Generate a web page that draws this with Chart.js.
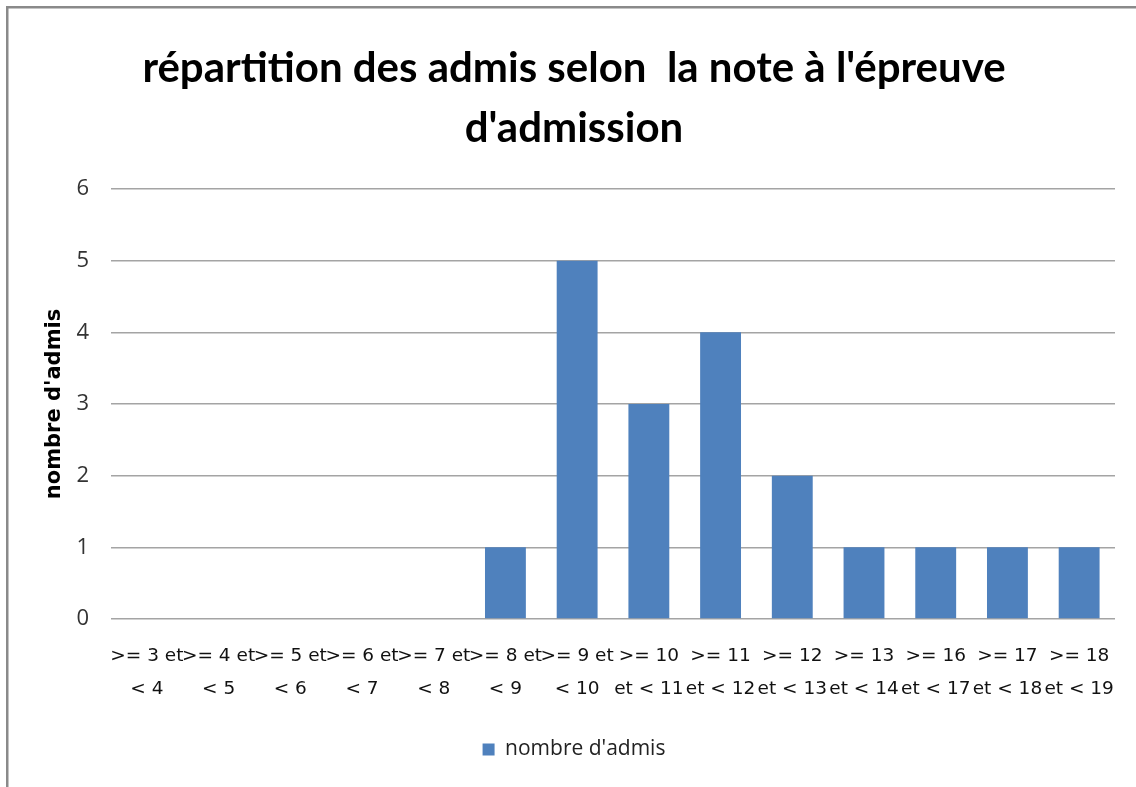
<!DOCTYPE html>
<html>
<head>
<meta charset="utf-8">
<script src="https://cdn.jsdelivr.net/npm/chart.js@4/dist/chart.umd.min.js"></script>
<style>
html,body{margin:0;padding:0;background:#fff;}
#wrap{position:relative;width:1136px;height:787px;}
</style>
</head>
<body>
<div id="wrap"><canvas id="c" width="1136" height="787"></canvas></div>
<script>
const titleLines = ["répartition des admis selon  la note à l'épreuve", "d'admission"];
const categories = [
  [">= 3 et", "< 4"], [">= 4 et", "< 5"], [">= 5 et", "< 6"], [">= 6 et", "< 7"],
  [">= 7 et", "< 8"], [">= 8 et", "< 9"], [">= 9 et", "< 10"], [">= 10", "et < 11"],
  [">= 11", "et < 12"], [">= 12", "et < 13"], [">= 13", "et < 14"], [">= 16", "et < 17"],
  [">= 17", "et < 18"], [">= 18", "et < 19"]
];
const seriesName = "nombre d'admis";
const admis = [0, 0, 0, 0, 0, 1, 5, 3, 4, 2, 1, 1, 1, 1];
const yAxisTitle = "nombre d'admis";
const yMin = 0, yMax = 6, yStep = 1;

const borderPlugin = {
  id: 'frame',
  beforeDraw(chart) {
    const ctx = chart.ctx;
    ctx.save();
    ctx.fillStyle = '#fff';
    ctx.fillRect(0, 0, chart.width, chart.height);
    ctx.strokeStyle = '#8a8a8a';
    ctx.lineWidth = 2.5;
    ctx.beginPath();
    ctx.moveTo(7.25, chart.height);
    ctx.lineTo(7.25, 7.25);
    ctx.lineTo(chart.width, 7.25);
    ctx.stroke();
    ctx.restore();
  }
};

new Chart(document.getElementById('c'), {
  type: 'bar',
  data: {
    labels: categories,
    datasets: [{
      label: seriesName,
      data: admis,
      backgroundColor: '#4F81BD',
      borderWidth: 0,
      barPercentage: 0.57,
      categoryPercentage: 1.0
    }]
  },
  options: {
    responsive: false,
    animation: false,
    devicePixelRatio: 1,
    layout: { padding: { top: 8, left: 12, right: 0, bottom: 17 } },
    plugins: {
      title: {
        display: true,
        text: titleLines,
        color: '#000',
        font: { family: 'Lato', weight: 'bold', size: 42, lineHeight: '60px' },
        padding: { top: 30, bottom: 31 }
      },
      legend: {
        display: true,
        position: 'bottom',
        labels: {
          color: '#222',
          font: { family: 'Open Sans', size: 21 },
          boxWidth: 12,
          boxHeight: 12,
          padding: 10
        }
      },
      tooltip: { enabled: false }
    },
    scales: {
      x: {
        grid: { display: false, drawTicks: false },
        border: { display: false },
        ticks: {
          color: '#111',
          font: { family: 'DejaVu Sans', size: 18.5, lineHeight: '33px' },
          padding: 20.5,
          maxRotation: 0,
          minRotation: 0,
          autoSkip: false
        },
        afterFit(scale) { scale.height = 110; }
      },
      y: {
        min: yMin,
        max: yMax,
        grid: { color: '#a4a4a4', lineWidth: 1.6, drawTicks: false },
        border: { display: false },
        ticks: {
          stepSize: yStep,
          color: '#333',
          font: { family: 'Open Sans', size: 22 },
          padding: 22
        },
        title: {
          display: true,
          text: yAxisTitle,
          color: '#000',
          font: { family: 'DejaVu Sans', weight: 'bold', size: 21, lineHeight: 1.2 },
          padding: { top: 30, bottom: 0 }
        },
        afterFit(scale) { scale.width = 99; }
      },
      yRight: {
        position: 'right',
        min: yMin,
        max: yMax,
        display: true,
        grid: { display: false, drawTicks: false },
        border: { display: false },
        ticks: { display: false },
        afterFit(scale) { scale.width = 21; }
      }
    }
  },
  plugins: [borderPlugin]
});
</script>
</body>
</html>
